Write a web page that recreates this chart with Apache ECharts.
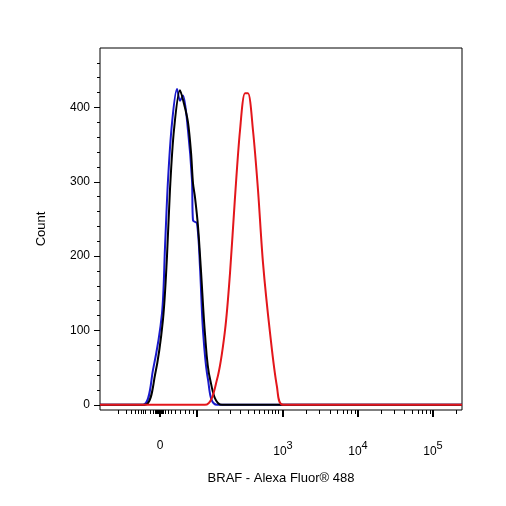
<!DOCTYPE html><html><head><meta charset="utf-8">
<script src="https://cdn.jsdelivr.net/npm/echarts@6/dist/echarts.min.js"></script>
<style>html,body{margin:0;padding:0;background:#fff}#c{width:506px;height:506px}</style></head><body><div id="c"></div>
<script>
// x values are in display units of the biexponential scale
const blueX=[100,143,153,162,165,168,172,177,180,183,188,192,193,197,200,203,208,217,462];
const blueY=[0,0,47,123,212,302,379,425,409,416,369,302,248,244,185,100,34,0,0];
const blackX=[100,145,155,163,167,170,174,180,184,188,191,193,195,198,201,205,210,222,462];
const blackY=[0,0,40,115,200,290,370,423,405,380,340,298,279,240,180,95,35,0,0];
const redX=[100,205,217,225,230,235,240,245,248,253,258,263,270,277,283,462];
const redY=[0,0,34,100,177,279,369,419,419,369,289,191,97,24,0,0];
const majorTicks=[160,197,283,358,433];
const tickLabels={160:'0',283:'10{s|3}',358:'10{s|4}',433:'10{s|5}'};
const minorTicks=[118,126,131,135,138,141,143,145,150,153,155,156,157,158,159,161,162,163,165,168,171,175,180,185,189,193,
 218,230,240,248,254,259,264,268,272,275,278,
 306,319,330,337,343,347,351,355,
 381,394,404,412,418,422,426,430,456];
const yLabels=[0,100,200,300,400];
const yMinor=[];for(let v=0;v<=460;v+=20)yMinor.push(v);
const pts=(xs,ys)=>xs.map((x,i)=>[x,ys[i]]);
const font='Liberation Sans';
const xBase={type:'value',min:100,max:462,splitLine:{show:false},axisLine:{show:false,onZero:false}};
const yBase={type:'value',min:-7,max:480,splitLine:{show:false},axisLine:{show:false,onZero:false}};
const chart=echarts.init(document.getElementById('c'));
chart.setOption({
 animation:false,
 grid:{left:100,right:44,top:48,bottom:96,show:true,borderColor:'#000',borderWidth:1},
 xAxis:[
  Object.assign({},xBase,{axisTick:{customValues:majorTicks,length:7,lineStyle:{color:'#000',width:2}},
   axisLabel:{customValues:[160,283,358,433],margin:30,color:'#000',fontFamily:font,fontSize:12,
    formatter:v=>tickLabels[Math.round(v)]||'',rich:{s:{fontSize:11,verticalAlign:'top',padding:[0,0,12,0],fontFamily:font,color:'#000'}}},
   name:'BRAF - Alexa Fluor® 488',nameLocation:'middle',nameGap:62,nameTextStyle:{color:'#000',fontFamily:font,fontSize:13}}),
  Object.assign({},xBase,{position:'bottom',axisTick:{customValues:minorTicks,length:4,lineStyle:{color:'#000'}},axisLabel:{show:false}})
 ],
 yAxis:[
  Object.assign({},yBase,{axisTick:{customValues:yLabels,length:6,lineStyle:{color:'#000'}},
   axisLabel:{customValues:yLabels,color:'#000',fontFamily:font,fontSize:12,margin:10},
   name:'Count',nameLocation:'middle',nameGap:52,nameTextStyle:{color:'#000',fontFamily:font,fontSize:13}}),
  Object.assign({},yBase,{position:'left',axisTick:{customValues:yMinor,length:3,lineStyle:{color:'#000'}},axisLabel:{show:false}})
 ],
 series:[
  {type:'line',data:pts(blueX,blueY),smooth:0.3,symbol:'none',lineStyle:{color:'#1a1acc',width:2}},
  {type:'line',data:pts(blackX,blackY),smooth:0.3,symbol:'none',lineStyle:{color:'#000',width:2}},
  {type:'line',data:pts(redX,redY),smooth:0.3,symbol:'none',lineStyle:{color:'#e3161b',width:2}}
 ]
});
</script></body></html>
